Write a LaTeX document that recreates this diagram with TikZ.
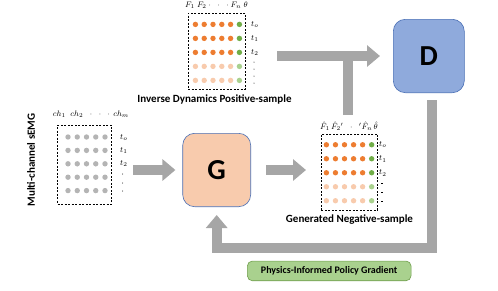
\documentclass[tikz,border=0pt]{standalone}
\usepackage{fontspec}
\setmainfont{Carlito}
\usetikzlibrary{arrows.meta, positioning, calc}
\definecolor{arrowgray}{HTML}{A6A6A6}
\definecolor{dotorange}{HTML}{ED7D31}
\definecolor{dotpeach}{HTML}{F8CBAD}
\definecolor{dotgreen}{HTML}{70AD47}
\definecolor{dotlgreen}{HTML}{A9D18E}
\definecolor{dotgray}{HTML}{B4B4B4}
\definecolor{gfill}{HTML}{F8CBAD}
\definecolor{dfill}{HTML}{8FAADC}
\definecolor{boxline}{HTML}{4A6FB5}
\definecolor{pgline}{HTML}{6F9E4C}

\begin{document}
\begin{tikzpicture}[x=1pt, y=-1pt, node distance=4pt,
    sample/.style={draw, dash pattern=on 2pt off 1.5pt, line width=0.6pt, inner sep=0pt},
    netbox/.style={draw=boxline, line width=0.6pt, rounded corners=12pt, inner sep=0pt,
        font=\fontsize{29}{31}\selectfont\bfseries},
    caption/.style={font=\fontsize{11}{13}\selectfont\bfseries, inner sep=0pt},
    hdr/.style={font=\fontsize{8}{9}\selectfont, inner sep=0pt},
    tlab/.style={font=\fontsize{8}{9}\selectfont, inner sep=0pt, anchor=west},
    bigline/.style={draw=arrowgray, line width=10pt},
    bigarrow/.style={bigline, -{Triangle[length=13pt, width=21pt]}, arrowgray}]%
    \useasboundingbox (0,0) rectangle (498,290);

    % sample windows
    \node (emg) [sample, minimum width=54pt, minimum height=79pt] at (84.7,164.5) {};
    \node (pos) [sample, minimum width=57pt, minimum height=76pt] at (216.5,51) {};
    \node (neg) [sample, minimum width=56.4pt, minimum height=75.7pt] at (349.5,172.2) {};

    % networks
    \node (G) [netbox, fill=gfill, minimum width=68pt, minimum height=73.4pt] at (216.7,170) {G};
    \node (D) [netbox, fill=dfill, minimum width=71pt, minimum height=73.4pt] at (428.8,56) {D};

    % sEMG dots
    \foreach \r in {0,...,4}{
        \foreach \c in {0,...,4}{
            \fill [dotgray] ($(emg.north west)+(10.6+9.25*\c, 12.3+13.4*\r)$) circle (2.7);
        }
    }
    % force / angle dots
    \foreach \bx/\xo/\dx/\yo/\dy in {pos/7.7/8.8/11.7/14, neg/5.4/9.05/10.7/14}{
        \foreach \r in {0,...,4}{
            \foreach \c in {0,...,5}{
                \def\dotC{dotorange}
                \ifnum\c=5 \def\dotC{dotgreen}\fi
                \ifnum\r>2
                    \ifnum\c=5 \def\dotC{dotlgreen}\else \def\dotC{dotpeach}\fi
                \fi
                \fill [\dotC] ($(\bx.north west)+(\xo+\dx*\c, \yo+14*\r)$) circle (2.7);
            }
        }
    }

    % headers
    \node (emgHdr) [hdr] at (91,114) {$ch_1\;\; ch_2\;\;\cdot\;\;\cdot\;\;\cdot\, ch_m$};
    \node (posHdr) [hdr] at (216.5,5) {$F_1\;F_2\cdot\;\;\cdot\;\;\cdot F_n\;\theta$};
    \node (negHdr) [hdr] at (349,126) {$\hat{F}_1\,\hat{F}_2{}'\;\;\cdot\;\;{}'\hat{F}_n\,\hat{\theta}$};

    % time labels
    \foreach \bx/\tx/\ty/\dy in {emg/120/137.3/13.2, pos/251/24.7/13.8, neg/379/145/14}{
        \node [tlab] at (\tx,\ty) {$t_o$};
        \node [tlab] at (\tx,\ty+\dy) {$t_1$};
        \node [tlab] at (\tx,\ty+2*\dy) {$t_2$};
    }
    \foreach \y in {174,183,191}{ \fill (122.7,\y) circle (0.5); }
    \foreach \y in {62,69,76,83}{ \fill (254,\y) circle (0.5); }
    \foreach \y in {183.3,192.7,201}{ \draw [line width=0.5pt] (381,\y) -- (383,\y); }

    % captions
    \node (emgLabel) [caption, rotate=90] at (31,160) {Multi-channel sEMG};
    \node (posLabel) [caption, below=5pt of pos.south, xshift=-2pt] {Inverse Dynamics Positive-sample};
    \node (negLabel) [caption, below=4pt of neg.south] {Generated Negative-sample};
    \node (pgLabel) [draw=pgline, fill=dotlgreen, rounded corners=5pt, line width=0.6pt,
        minimum width=163.7pt, minimum height=19.7pt, inner sep=0pt,
        font=\fontsize{10}{12}\selectfont\bfseries] at (329.2,270.9) {Physics-Informed Policy Gradient};

    % connectors
    \coordinate (tee) at (347.7,56);
    \coordinate (fb) at (431.7,248.3);
    \draw [bigarrow, shorten <=21pt, shorten >=7pt] (emg.east |- G.west) -- (G.west);
    \draw [bigarrow, shorten <=15pt, shorten >=15pt] (G.east) -- (G.east -| neg.west);
    \draw [bigline] ([yshift=19pt]neg.north -| tee) -- ([yshift=5pt]tee);
    \draw [bigarrow, shorten <=31.7pt, shorten >=13pt] (pos.east |- D.west) -- (D.west);
    \draw [bigarrow, shorten <=7pt, shorten >=8pt] (fb |- D.south) |- (G.south |- fb) -- (G.south);
\end{tikzpicture}
\end{document}
